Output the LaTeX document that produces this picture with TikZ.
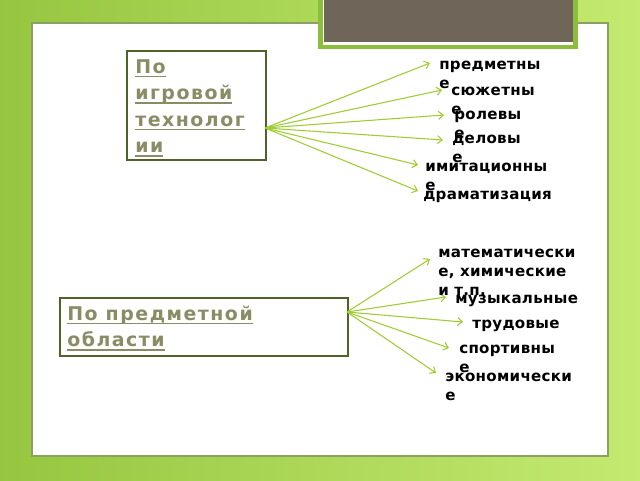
\documentclass[tikz,border=0pt]{standalone}
\usepackage{fontspec}
\setmainfont{DejaVu Sans}
\newfontfamily\labf{DejaVu Sans Bold}[LetterSpace=2]
\newfontfamily\boxf{DejaVu Sans Bold}[LetterSpace=8]
\usetikzlibrary{arrows.meta}
\definecolor{bgL}{RGB}{150,198,64}
\definecolor{bgR}{RGB}{196,234,112}
\definecolor{panelframe}{RGB}{140,160,100}
\definecolor{frm}{RGB}{79,98,40}
\definecolor{btxt}{RGB}{137,140,100}
\definecolor{arr}{RGB}{160,204,50}
\definecolor{brn}{RGB}{111,102,89}
\definecolor{grb}{RGB}{140,190,60}
\newcommand\myul[1]{\setbox0\hbox{#1}\rlap{\rule[-3pt]{\wd0}{1.1pt}}\box0}
\newcommand\mystack[1]{\begin{tabular}[t]{@{}l@{}}#1\end{tabular}}
\begin{document}
\begin{tikzpicture}[x=0.75pt,y=-0.75pt,
  lab/.style={anchor=base west,inner sep=0pt,font=\labf\fontsize{11.3}{14.25}\selectfont,text=black},
  cat/.style={draw=frm,line width=1.5pt,fill=white,anchor=north west,inner sep=0pt},
  cattext/.style={anchor=base west,inner sep=0pt,font=\boxf\fontsize{14.2}{19.9}\selectfont,text=btxt},
  link/.style={draw=arr,line width=0.8pt,-{Straight Barb[length=3.5pt,width=6pt]}}]
\useasboundingbox (0,0) rectangle (640,480);
\shade[left color=bgL,right color=bgR] (0,0) rectangle (640,480);
\draw[panelframe,fill=white,line width=0.8pt] (32,23) rectangle (608,456);
% top brown box
\draw[grb,line width=3.5pt,fill=white] (320.5,-10) rectangle (575.5,47);
\fill[brn] (324,-10) rectangle (572.5,42);
% category boxes
\node[cat,minimum width=104.25pt,minimum height=81.75pt] (b1) at (126,50) {};
\node[cattext] (b1t) at (135,73) {\mystack{\myul{По}\\\myul{игровой}\\\myul{технолог}\\\myul{ии}}};
\node[cat,minimum width=216pt,minimum height=43.5pt] (b2) at (59,297) {};
\node[cattext] (b2t) at (67,320) {\mystack{\myul{По предметной}\\\myul{области}}};
% sources and tips
\coordinate (s1) at (265,128);
\coordinate (s2) at (347,312);
\coordinate (t1) at (430,63);
\coordinate (t2) at (442,90);
\coordinate (t3) at (444,115);
\coordinate (t4) at (443,140);
\coordinate (t5) at (418,165);
\coordinate (t6) at (418,191);
\coordinate (t7) at (430,259);
\coordinate (t8) at (446,297);
\coordinate (t9) at (463,322);
\coordinate (t10) at (449,348);
\coordinate (t11) at (436,373);
\foreach \t in {t1,t2,t3,t4,t5,t6} \draw[link] (s1) -- (\t);
\foreach \t in {t7,t8,t9,t10,t11} \draw[link] (s2) -- (\t);
% labels
\node[lab] (l1) at (439,69) {\mystack{предметны\\е}};
\node[lab] (l2) at (451,95) {\mystack{сюжетны\\е}};
\node[lab] (l3) at (454,119) {\mystack{ролевы\\е}};
\node[lab] (l4) at (452,143) {\mystack{деловы\\е}};
\node[lab] (l5) at (425,171) {\mystack{имитационны\\е}};
\node[lab] (l6) at (423,199) {драматизация};
\node[lab] (l7) at (438,257) {\mystack{математически\\е, химические\\и т.п.}};
\node[lab] (l8) at (455,303) {музыкальные};
\node[lab] (l9) at (472,328) {трудовые};
\node[lab] (l10) at (459,353) {\mystack{спортивны\\е}};
\node[lab] (l11) at (445,381) {\mystack{экономически\\е}};
\end{tikzpicture}
\end{document}
